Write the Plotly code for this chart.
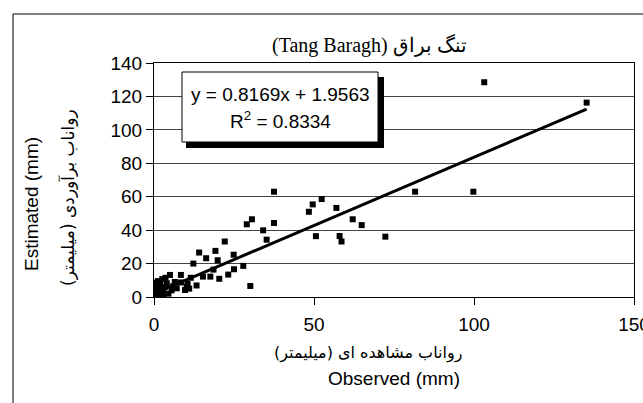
import plotly.graph_objects as go

# ---- data ----
observed = [103.2, 135.2, 81.6, 99.8, 72.3,
            62.1, 64.9, 57.0, 58.0, 58.6, 48.4, 49.6, 52.4, 50.6, 37.5, 37.5, 29.0, 30.6, 34.1, 35.2, 30.1,
            22.1, 24.9, 27.9, 14.1, 16.3, 19.2, 19.9, 12.3, 18.6, 15.3, 17.6, 20.4, 23.2, 25.0, 13.3,
            8.4, 8.4, 10.5, 5.0, 2.6, 7.1, 9.7, 10.2, 0.8, 0.3, 3.4, 2.9, 1.4, 4.0, 1.9, 2.4,
            0.2, 0.5, 1.0, 1.5, 0.3, 0.7, 2.0, 3.0, 4.5, 5.5, 6.0, 1.2, 3.6, 6.5, 11.5, 11.0]
estimated = [128.5, 116.3, 63.0, 63.0, 36.1,
             46.5, 43.0, 53.3, 36.5, 33.2, 51.0, 55.4, 58.6, 36.4, 63.0, 44.3, 43.5, 46.5, 39.9, 34.3, 6.6,
             33.2, 25.3, 18.6, 26.6, 23.2, 27.6, 22.0, 20.0, 16.4, 12.2, 12.2, 10.9, 13.4, 16.6, 6.9,
             13.2, 8.7, 7.8, 13.2, 10.7, 5.2, 4.2, 6.2, 6.2, 3.2, 6.2, 3.2, 1.2, 8.2, 7.2, 3.2,
             0.3, 1.5, 0.5, 2.5, 4.5, 8.5, 5.0, 1.0, 2.0, 4.0, 6.5, 9.5, 11.5, 9.0, 11.5, 5.0]

slope = 0.8169
intercept = 1.9563
r_squared = 0.8334

x_ticks = [0, 50, 100, 150]
y_ticks = [0, 20, 40, 60, 80, 100, 120, 140]

RLM = "\u200f"
title_text = "(Tang Baragh) تنگ براق"
x_title_fa = RLM + "رواناب مشاهده ای (میلیمتر)" + RLM
x_title_en = "Observed (mm)"
y_title_fa = RLM + "رواناب برآوردی (میلیمتر)" + RLM
y_title_en = "Estimated (mm)"

# ---- layout geometry (pixels) ----
W, H = 643, 403
L, R, T, B = 154, 634, 63, 297


def px(xp):
    return (xp - L) / (R - L)


def py(yp):
    return (B - yp) / (B - T)


FONT = "Liberation Sans, Arial, DejaVu Sans, sans-serif"
FA_FONT = "DejaVu Sans, sans-serif"

trend_x = [min(observed), max(observed)]
trend_y = [slope * v + intercept for v in trend_x]

fig = go.Figure()
fig.add_trace(go.Scatter(
    x=observed, y=estimated, mode="markers",
    marker=dict(symbol="square", size=6, color="black", line=dict(width=0)),
    showlegend=False, hoverinfo="skip"))
fig.add_trace(go.Scatter(
    x=trend_x, y=trend_y, mode="lines",
    line=dict(color="black", width=3),
    showlegend=False, hoverinfo="skip"))

axis_common = dict(
    showline=True, linecolor="black", linewidth=1, mirror=True,
    ticks="outside", ticklen=7, tickcolor="black", tickwidth=1,
    tickfont=dict(family=FONT, size=19, color="black"),
    zeroline=False, automargin=False, fixedrange=True,
    ticklabeloverflow="allow",
)

fig.update_xaxes(range=[0, 150], tickvals=x_ticks, showgrid=False,
                 ticklabelstandoff=3, **axis_common)
fig.update_yaxes(range=[0, 140], tickvals=y_ticks, showgrid=True,
                 gridcolor="#444444", gridwidth=1, **axis_common)

shapes = [
    # outer chart frame (top and left edges; the rest lies outside the picture)
    dict(type="line", xref="paper", yref="paper",
         x0=px(13), x1=px(660), y0=py(14), y1=py(14),
         line=dict(color="black", width=1), layer="above"),
    dict(type="line", xref="paper", yref="paper",
         x0=px(13), x1=px(13), y0=py(14), y1=py(420),
         line=dict(color="black", width=1), layer="above"),
    # equation box shadow
    dict(type="rect", xref="paper", yref="paper",
         x0=px(186), x1=px(384), y0=py(148), y1=py(77),
         line=dict(width=0), fillcolor="black", layer="above"),
    # equation box
    dict(type="rect", xref="paper", yref="paper",
         x0=px(182), x1=px(378), y0=py(142), y1=py(72),
         line=dict(color="black", width=1), fillcolor="white", layer="above"),
]

annotations = [
    dict(text=title_text, x=px(369), y=py(45), xref="paper", yref="paper",
         showarrow=False, xanchor="center", yanchor="middle",
         font=dict(family="Liberation Serif, Times New Roman, DejaVu Serif, serif", size=20, color="black")),
    dict(text=x_title_fa, x=px(368), y=py(353), xref="paper", yref="paper",
         showarrow=False, xanchor="center", yanchor="middle",
         font=dict(family=FA_FONT, size=16, color="black")),
    dict(text=x_title_en, x=px(394), y=py(378), xref="paper", yref="paper",
         showarrow=False, xanchor="center", yanchor="middle",
         font=dict(family=FONT, size=19, color="black")),
    dict(text=y_title_en, x=px(31), y=py(204), xref="paper", yref="paper",
         showarrow=False, xanchor="center", yanchor="middle", textangle=-90,
         font=dict(family=FONT, size=19, color="black")),
    dict(text=y_title_fa, x=px(67), y=py(198), xref="paper", yref="paper",
         showarrow=False, xanchor="center", yanchor="middle", textangle=-90,
         font=dict(family=FA_FONT, size=17, color="black")),
    dict(text=f"y = {slope:.4f}x + {intercept:.4f}", x=px(280), y=py(95), xref="paper", yref="paper",
         showarrow=False, xanchor="center", yanchor="middle",
         font=dict(family=FONT, size=19, color="black")),
    dict(text=f"R<sup>2</sup> = {r_squared:.4f}", x=px(280), y=py(120), xref="paper", yref="paper",
         showarrow=False, xanchor="center", yanchor="middle",
         font=dict(family=FONT, size=19, color="black")),
]

fig.update_layout(
    width=W, height=H,
    margin=dict(l=L, r=W - R, t=T, b=H - B, pad=0, autoexpand=False),
    paper_bgcolor="white", plot_bgcolor="white",
    shapes=shapes, annotations=annotations,
    showlegend=False,
)

fig.write_html("out.html", config=dict(displayModeBar=False))
